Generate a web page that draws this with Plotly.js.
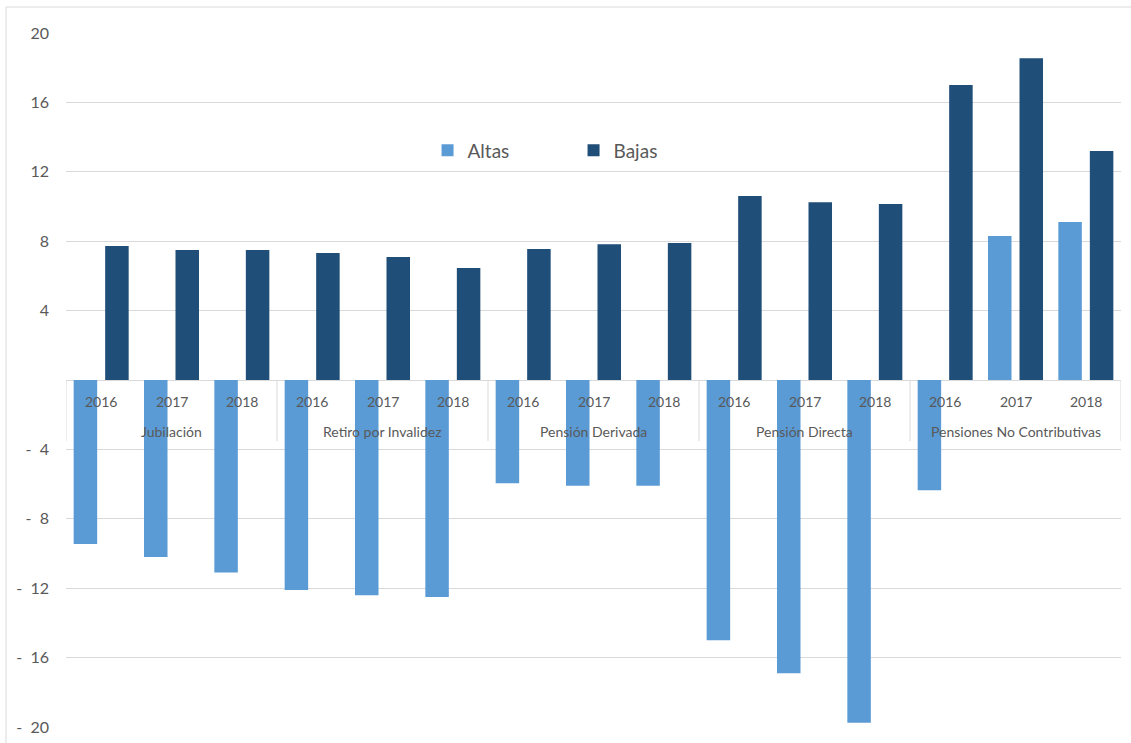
<!DOCTYPE html>
<html>
<head>
<meta charset="utf-8">
<script src="https://cdn.plot.ly/plotly-3.0.1.min.js"></script>
<style>html,body{margin:0;padding:0;background:#fff;}#chart{width:1131px;height:743px;}</style>
</head>
<body>
<div id="chart"></div>
<script>
const groups = ["Jubilación", "Retiro por Invalidez", "Pensión Derivada", "Pensión Directa", "Pensiones No Contributivas"];
const years = ["2016", "2017", "2018"];
const altas = [-9.45, -10.2, -11.1, -12.1, -12.4, -12.5, -5.95, -6.1, -6.1, -15.0, -16.9, -19.75, -6.35, 8.3, 9.1];
const bajas = [7.72, 7.49, 7.49, 7.32, 7.09, 6.45, 7.55, 7.83, 7.89, 10.6, 10.25, 10.14, 17.0, 18.55, 13.2];
const yTickVals = [-20, -16, -12, -8, -4, 0, 4, 8, 12, 16, 20];
const yTickText = ["-\u00a0\u00a020", "-\u00a0\u00a016", "-\u00a0\u00a012", "-\u00a0\u00a08", "-\u00a0\u00a04", "", "4", "8", "12", "16", "20"];

const font = "Lato, 'Liberation Sans', sans-serif";
const labelColor = "#595959";
const nY = years.length;

// category positions (one slot per group/year pair)
const xPos = [], yearLabel = [];
groups.forEach((g, gi) => years.forEach((y, yi) => { xPos.push(gi * nY + yi); yearLabel.push(y); }));

const traces = [
  {type: "bar", name: "Altas", x: xPos, y: altas, marker: {color: "#5B9BD5"}},
  {type: "bar", name: "Bajas", x: xPos, y: bajas, marker: {color: "#1F4E79"}}
];

const annotations = [];
xPos.forEach((x, i) => annotations.push({
  xref: "x", yref: "y", x: x, y: 0, yshift: -21, text: yearLabel[i], showarrow: false,
  xanchor: "center", yanchor: "middle", font: {size: 14, color: labelColor, family: font}
}));
groups.forEach((g, gi) => annotations.push({
  xref: "x", yref: "y", x: gi * nY + (nY - 1) / 2, y: 0, yshift: -51, text: g, showarrow: false,
  xanchor: "center", yanchor: "middle", font: {size: 14, color: labelColor, family: font}
}));

const shapes = [{type: "rect", xref: "paper", yref: "paper", x0: -60/1055, x1: 1.1, y0: -0.1, y1: 1 + 26/694,
                 line: {color: "#d9d9d9", width: 1}, fillcolor: "rgba(0,0,0,0)", layer: "below"}];
for (let gi = 0; gi <= groups.length; gi++) {
  shapes.push({type: "line", xref: "x", yref: "y", ysizemode: "pixel", yanchor: 0,
               x0: gi * nY - 0.5, x1: gi * nY - 0.5, y0: 0, y1: -61,
               line: {color: "#d9d9d9", width: 1}, layer: "below"});
}

const layout = {
  width: 1131, height: 743,
  margin: {l: 66, r: 10, t: 33, b: 16},
  paper_bgcolor: "#fff", plot_bgcolor: "#fff",
  font: {family: font, color: labelColor},
  barmode: "group", bargap: 0.104, bargroupgap: 0.254,
  showlegend: true,
  legend: {orientation: "h", x: 0.3427, y: 0.831, xanchor: "left", yanchor: "middle",
           font: {size: 19, color: labelColor, family: font}, bgcolor: "rgba(0,0,0,0)",
           entrywidth: 101, entrywidthmode: "pixels", traceorder: "normal"},
  xaxis: {range: [-0.5, xPos.length - 0.5], showticklabels: false, showgrid: false, zeroline: false,
          showline: false, ticks: "", fixedrange: true},
  yaxis: {range: [-20, 20], tickvals: yTickVals, ticktext: yTickText, showgrid: true,
          gridcolor: "#d9d9d9", gridwidth: 1, zeroline: true, zerolinecolor: "#d9d9d9", zerolinewidth: 1,
          ticks: "", ticklabelstandoff: 16, tickfont: {size: 16, color: labelColor, family: font}, fixedrange: true},
  annotations: annotations,
  shapes: shapes
};
Plotly.newPlot("chart", traces, layout, {displayModeBar: false, staticPlot: true});
</script>
</body>
</html>
